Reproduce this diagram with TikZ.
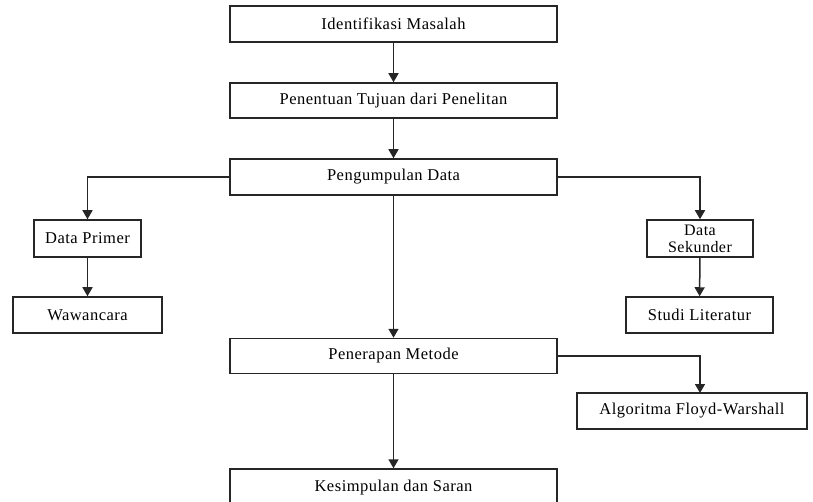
\documentclass[tikz,border=0pt]{standalone}
\usepackage{fontspec}
\setmainfont{Liberation Serif}[LetterSpace=3]
\usetikzlibrary{arrows.meta}
\begin{document}
\begin{tikzpicture}[x=1pt,y=-1pt,
  box/.style={draw=black!85, line width=1.5pt, rectangle, inner sep=0pt, align=center, font=\fontsize{16.5}{16.5}\selectfont},
  conn/.style={draw=black!85, line width=1.5pt, -{Triangle[length=9pt,width=10pt]}}]
\clip (0,0) rectangle (813,502);
\fill[white] (0,0) rectangle (813,502);
\node[box, minimum width=327pt, minimum height=36pt] (ident) at (393.5,24) {Identifikasi Masalah};
\node[box, minimum width=327pt, minimum height=35pt] (tujuan) at (393.5,100.5) {Penentuan Tujuan dari Penelitan};
\node[box, minimum width=327pt, minimum height=36pt] (kumpul) at (393.5,177) {Pengumpulan Data};
\node[box, minimum width=107pt, minimum height=37pt] (primer) at (87.5,238.5) {Data Primer};
\node[box, minimum width=149pt, minimum height=36pt] (wawan) at (87.5,315) {Wawancara};
\node[box, minimum width=106pt, minimum height=37pt, font=\fontsize{16}{17}\selectfont] (sekunder) at (700,238.5) {Data\\Sekunder};
\node[box, minimum width=147pt, minimum height=36pt] (studi) at (699.5,315) {Studi Literatur};
\node[box, minimum width=327pt, minimum height=35pt] (terap) at (393.5,356) {Penerapan Metode};
\node[box, minimum width=230pt, minimum height=36pt] (algo) at (692,411) {Algoritma Floyd-Warshall};
\node[box, minimum width=327pt, minimum height=38pt] (kesim) at (393.5,488) {Kesimpulan dan Saran};
\draw[conn] (ident) -- (tujuan);
\draw[conn] (tujuan) -- (kumpul);
\draw[conn] (kumpul.west) -| (primer.north);
\draw[conn] (kumpul.east) -| (sekunder.north);
\draw[conn] (primer) -- (wawan);
\draw[conn] (sekunder) -- (studi);
\draw[conn] (kumpul) -- (terap);
\coordinate (algotop) at (700,393);
\draw[conn] (terap.east) -| (algotop);
\draw[conn] (terap) -- (kesim);
\end{tikzpicture}
\end{document}
